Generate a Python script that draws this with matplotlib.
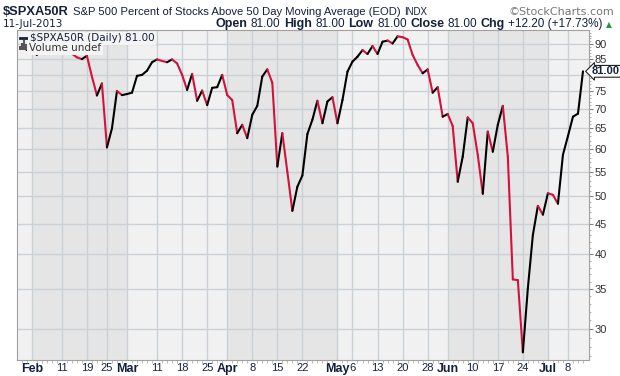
import matplotlib
matplotlib.use('Agg')
import matplotlib.pyplot as plt
from matplotlib.collections import LineCollection
from matplotlib.ticker import FixedLocator, NullFormatter
import numpy as np
import pandas as pd

W, H = 620, 376

# trading days shown on the chart
holidays = ['2013-02-18', '2013-03-29', '2013-05-27', '2013-07-04']
dates = pd.bdate_range('2013-01-30', '2013-07-11')
dates = dates[~dates.isin(pd.to_datetime(holidays))]

# daily close, % of stocks above the 50 day MA
values = [
    89.0, 88.0,
    89.5, 86.3, 88.5, 88.8, 87.8, 88.6, 88.4, 87.6, 86.7, 85.5, 84.9, 86.0,
    79.4, 73.8, 77.3, 60.4, 65.0, 75.1, 73.9,
    74.2, 74.6, 79.6, 79.9, 81.2, 83.9, 84.8, 84.3, 83.9, 84.8, 83.5, 79.9,
    75.4, 80.2, 72.3, 75.2, 71.1, 76.0, 76.2, 79.9,
    73.9, 72.5, 63.8, 65.9, 62.6, 68.5, 70.9, 79.4, 81.6, 77.5, 56.1, 63.8,
    55.0, 47.3, 51.9, 54.2, 63.6, 67.2, 72.3, 66.3, 72.1, 73.3,
    66.3, 72.5, 80.9, 84.1, 85.7, 87.9, 86.6, 89.3, 86.6, 90.8, 91.2, 90.2,
    92.7, 92.4, 91.6, 86.3, 83.0, 80.4, 81.6, 74.6, 76.2, 68.0,
    68.7, 65.6, 52.9, 58.3, 67.8, 66.3, 58.7, 50.5, 64.2, 59.4, 65.9, 70.9,
    58.3, 36.3, 36.2, 27.4, 35.1, 43.1, 48.2, 46.6,
    50.6, 50.3, 48.6, 58.7, 63.1, 68.0, 68.8, 81.0,
]

tick_dates = ['2013-02-01', '2013-02-11', '2013-02-19', '2013-02-25',
              '2013-03-01', '2013-03-11', '2013-03-18', '2013-03-25',
              '2013-04-01', '2013-04-08', '2013-04-15', '2013-04-22',
              '2013-05-01', '2013-05-06', '2013-05-13', '2013-05-20', '2013-05-28',
              '2013-06-03', '2013-06-10', '2013-06-17', '2013-06-24',
              '2013-07-01', '2013-07-08']
tick_labels = ['Feb', '11', '19', '25', 'Mar', '11', '18', '25', 'Apr', '8', '15', '22',
               'May', '6', '13', '20', '28', 'Jun', '10', '17', '24', 'Jul', '8']
shaded = [('2013-02-01', '2013-03-01'), ('2013-04-01', '2013-05-01'),
          ('2013-06-03', '2013-07-01')]
y_ticks = [30, 35, 40, 45, 50, 55, 60, 65, 70, 75, 80, 85, 90]

RED = '#d2123c'
NAVY = '#14213d'
GRID = '#c9d0d6'


def idx(d):
    return dates.get_loc(pd.Timestamp(d))


fig = plt.figure(figsize=(W / 100, H / 100), dpi=100)
fig.patch.set_facecolor('white')
ax = fig.add_axes([17 / W, 1 - 360 / H, (589 - 17) / W, (360 - 30) / H])
ax.set_facecolor('#f1f1f1')

x = np.arange(len(dates))
ax.set_yscale('log')
ax.set_xlim(-0.95, 113.2)
ax.set_ylim(26.6, 95.0)

for a, b in shaded:
    ax.axvspan(idx(a), idx(b), color='#e5e5e5', lw=0, zorder=0)

ticks = [idx(d) for d in tick_dates]
for t in ticks:
    ax.axvline(t, color=GRID, lw=1, zorder=1)
for v in y_ticks:
    ax.axhline(v, color=GRID, lw=1, zorder=1)

# up days black, down days red
pts = np.column_stack([x, values])
segs = np.stack([pts[:-1], pts[1:]], axis=1)
cols = ['black' if values[i + 1] >= values[i] else RED for i in range(len(values) - 1)]
ax.add_collection(LineCollection(segs, colors=cols, linewidths=1.5, zorder=3,
                                 capstyle='round', joinstyle='round'))

ax.xaxis.set_major_locator(FixedLocator(ticks))
ax.set_xticklabels(tick_labels)
for lab, txt in zip(ax.get_xticklabels(), tick_labels):
    lab.set_fontweight('bold' if txt.isalpha() else 'normal')
    lab.set_fontsize(9 if txt.isalpha() else 8)
    lab.set_color(NAVY)
    lab.set_family('Liberation Sans')
ax.xaxis.set_minor_locator(FixedLocator(x))
ax.tick_params(axis='x', which='major', length=0, pad=2)
ax.tick_params(axis='x', which='minor', length=2, color='#b0b0b0', width=0.6)

ax.yaxis.tick_right()
ax.yaxis.set_major_locator(FixedLocator(y_ticks))
# the 80 label sits under the last-value tag
ax.yaxis.set_major_formatter(plt.FuncFormatter(lambda v, p: '' if v == 80 else '%d' % v))
ax.yaxis.set_minor_locator(FixedLocator(np.arange(27, 95)))
ax.yaxis.set_minor_formatter(NullFormatter())
ax.tick_params(axis='y', which='both', left=False, right=True, labelleft=False)
ax.tick_params(axis='y', which='major', length=3, color='#808080', labelsize=8,
               labelcolor='#333333', pad=1)
ax.tick_params(axis='y', which='minor', length=1.5, color='#a0a0a0', width=0.6)
for lab in ax.get_yticklabels():
    lab.set_family('Liberation Sans')
for s in ax.spines.values():
    s.set_color('#a0a0a0')
    s.set_linewidth(0.8)

# last value tag
ax.annotate('81.00', xy=(1.0, values[-1]), xycoords=('axes fraction', 'data'),
            xytext=(2, 0), textcoords='offset points', ha='left', va='center',
            fontsize=8, fontweight='bold', color=NAVY, family='Liberation Sans',
            bbox=dict(boxstyle='larrow,pad=0.08', fc='white', ec='#222222', lw=0.8),
            annotation_clip=False, zorder=5)

# legend in the corner
ax.plot([0.005, 0.017], [0.975, 0.975], transform=ax.transAxes, color=NAVY, lw=2, zorder=6)
ax.text(0.022, 0.975, '$SPXA50R (Daily) 81.00', transform=ax.transAxes, fontsize=7.5,
        color=NAVY, va='center', ha='left', family='DejaVu Sans', zorder=6,
        bbox=dict(boxstyle='square,pad=0.15', fc='#f4f4f4', ec='none'))
for k, hgt in enumerate([0.4, 0.7, 1.0, 0.6]):
    ax.add_patch(plt.Rectangle((0.004 + k * 0.0035, 0.94), 0.0025, 0.03 * hgt,
                               transform=ax.transAxes, color='#555555', zorder=7, lw=0))
ax.text(0.021, 0.945, 'Volume undef', transform=ax.transAxes, fontsize=7.5,
        color='#333333', va='center', ha='left', family='DejaVu Sans', zorder=6,
        bbox=dict(boxstyle='square,pad=0.15', fc='#f4f4f4', ec='none'))

# header
renderer = fig.canvas.get_renderer()


def run_text(x_px, y_px, runs, gap=3.5, align='left'):
    items = []
    for txt, wt, size, col in runs:
        t = fig.text(0, 1 - y_px / H, txt, fontsize=size, fontweight=wt, color=col,
                     family='Liberation Sans', va='baseline', ha='left')
        items.append(t)
    widths = [t.get_window_extent(renderer=renderer).width for t in items]
    total = sum(widths) + gap * (len(items) - 1)
    cur = x_px - total if align == 'right' else x_px
    for t, w in zip(items, widths):
        t.set_x(cur / W)
        cur += w + gap


run_text(3, 15, [('$SPXA50R', 'bold', 9.3, NAVY),
                 ('S&P 500 Percent of Stocks Above 50 Day Moving Average (EOD)', 'normal', 8.1, NAVY),
                 ('INDX', 'normal', 7, NAVY)], gap=4)
fig.text(614 / W, 1 - 15 / H, '\u00a9StockCharts.com', fontsize=8, color='#777777',
         family='DejaVu Sans', ha='right', va='baseline')
fig.text(3 / W, 1 - 27 / H, '11-Jul-2013', fontsize=7.5, color=NAVY,
         family='DejaVu Sans', ha='left', va='baseline')
run_text(603, 27, [('Open', 'bold', 9, NAVY), ('81.00', 'normal', 8.5, NAVY),
                   ('High', 'bold', 9, NAVY), ('81.00', 'normal', 8.5, NAVY),
                   ('Low', 'bold', 9, NAVY), ('81.00', 'normal', 8.5, NAVY),
                   ('Close', 'bold', 9, NAVY), ('81.00', 'normal', 8.5, NAVY),
                   ('Chg', 'bold', 9, NAVY), ('+12.20 (+17.73%)', 'normal', 8.5, NAVY)],
         gap=3.5, align='right')
fig.text(606 / W, 1 - 27 / H, '\u25b2', fontsize=5.5, color='#1f9a3a',
         family='DejaVu Sans', ha='left', va='baseline')

fig.savefig('out.png', dpi=100, facecolor='white')
